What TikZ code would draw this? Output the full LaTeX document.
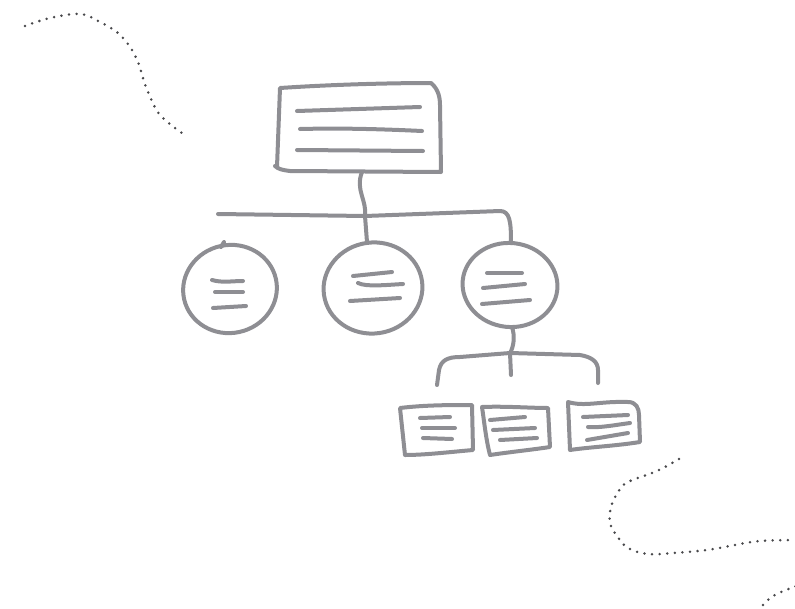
\documentclass[tikz,border=0pt]{standalone}
\begin{document}
\definecolor{sketchgray}{RGB}{142,142,147}
\definecolor{dotgray}{RGB}{72,72,75}
\begin{tikzpicture}[x=1pt,y=-1pt,
  sketch/.style={draw=sketchgray,line width=4pt,line cap=round,line join=round},
  dotline/.style={draw=dotgray,line width=2.8pt,line cap=round,dash pattern=on 0pt off 7.6pt}]
\useasboundingbox (0,0) rectangle (795,608);

% anchor points of the shapes
\coordinate (rootbottom) at (362,172);
\coordinate (barleft) at (218,214);
\coordinate (barmid) at (365,216);
\coordinate (cAcenter) at (230,289);
\coordinate (cBcenter) at (373,288);
\coordinate (cCcenter) at (510,285);
\coordinate (cBtop) at (367,242);
\coordinate (cCtop) at (511,243);
\coordinate (cCbottom) at (512,327);
\coordinate (forkmid) at (510,353);
\coordinate (leafA) at (437,385);
\coordinate (leafB) at (511,375);
\coordinate (leafC) at (598,383);

% root box
\draw[sketch] (277,167) -- (280,88) .. controls (340,84) and (400,83) .. (431,83)
  .. controls (437,88) and (440,95) .. (440,105) -- (441,172) -- (290,171)
  .. controls (282,170) and (278,169) .. (275,166);
\draw[sketch] (297,111) -- (420,107);
\draw[sketch] (300,129) .. controls (340,128) and (380,129) .. (422,131);
\draw[sketch] (297,150) -- (423,151);

% branches under the root
\draw[sketch] (rootbottom) .. controls (355,190) and (367,200) .. (barmid) -- (cBtop);
\draw[sketch] (barleft) -- (barmid) -- (500,211) .. controls (510,211) and (511,222) .. (cCtop);

% round nodes
\draw[sketch,rotate around={12:(cAcenter)}] (cAcenter) ellipse [x radius=47,y radius=44];
\draw[sketch] (221,247) -- (224,242);
\draw[sketch] (212,280) .. controls (222,283) and (232,281) .. (243,281);
\draw[sketch] (215,292) -- (243,292);
\draw[sketch] (213,308) -- (246,306);

\draw[sketch,rotate around={8:(cBcenter)}] (cBcenter) ellipse [x radius=49.5,y radius=45.5];
\draw[sketch] (353,276) -- (392,272);
\draw[sketch] (358,283) .. controls (366,287) and (385,285) .. (403,284);
\draw[sketch] (350,301) -- (400,298);

\draw[sketch,rotate around={-6:(cCcenter)}] (cCcenter) ellipse [x radius=47.5,y radius=42];
\draw[sketch] (487,273) -- (522,273);
\draw[sketch] (483,288) -- (525,284);
\draw[sketch] (482,304) -- (530,300);

% fork to the leaves
\draw[sketch] (cCbottom) .. controls (515,336) and (514,346) .. (forkmid);
\draw[sketch] (leafA) -- (439,370) .. controls (441,360) and (448,357) .. (460,357)
  -- (forkmid) -- (580,355) .. controls (592,357) and (598,362) .. (598,370) -- (leafC);
\draw[sketch] (forkmid) -- (leafB);

% leaf boxes
\draw[sketch] (405,455) -- (400,408) .. controls (425,405) and (450,405) .. (472,405)
  -- (473,450) .. controls (450,452) and (425,455) .. (405,455);
\draw[sketch] (420,418) -- (450,417);
\draw[sketch] (422,428) -- (455,428);
\draw[sketch] (423,438) -- (452,439);

\draw[sketch] (490,455) .. controls (486,440) and (484,420) .. (482,407)
  .. controls (505,406) and (530,408) .. (548,408) -- (550,447)
  .. controls (530,450) and (510,452) .. (490,455);
\draw[sketch] (490,420) -- (525,417);
\draw[sketch] (493,430) -- (535,428);
\draw[sketch] (500,440) -- (537,438);

\draw[sketch] (570,450) -- (568,402) .. controls (585,407) and (600,401) .. (628,402)
  .. controls (636,402) and (639,408) .. (639,415) -- (640,442)
  .. controls (615,446) and (590,447) .. (570,450);
\draw[sketch] (583,417) -- (628,415);
\draw[sketch] (588,427) .. controls (600,428) and (615,425) .. (630,423);
\draw[sketch] (587,440) -- (628,433);

% decorative dotted strokes
\draw[dotline] plot[smooth,tension=0.6] coordinates
  {(25,26) (50,18) (80,14) (100,22) (118,33) (130,47) (138,62) (143,78) (148,92) (160,115) (182,133)};
\draw[dotline] plot[smooth,tension=0.6] coordinates
  {(679,459) (657,471) (628,482) (618,492) (611,507) (610,523) (617,536) (628,548) (648,554) (673,553) (707,550) (740,544) (760,541) (790,540)};
\draw[dotline] plot[smooth,tension=0.6] coordinates
  {(763,605) (773,596) (791,588) (800,585)};
\end{tikzpicture}
\end{document}
